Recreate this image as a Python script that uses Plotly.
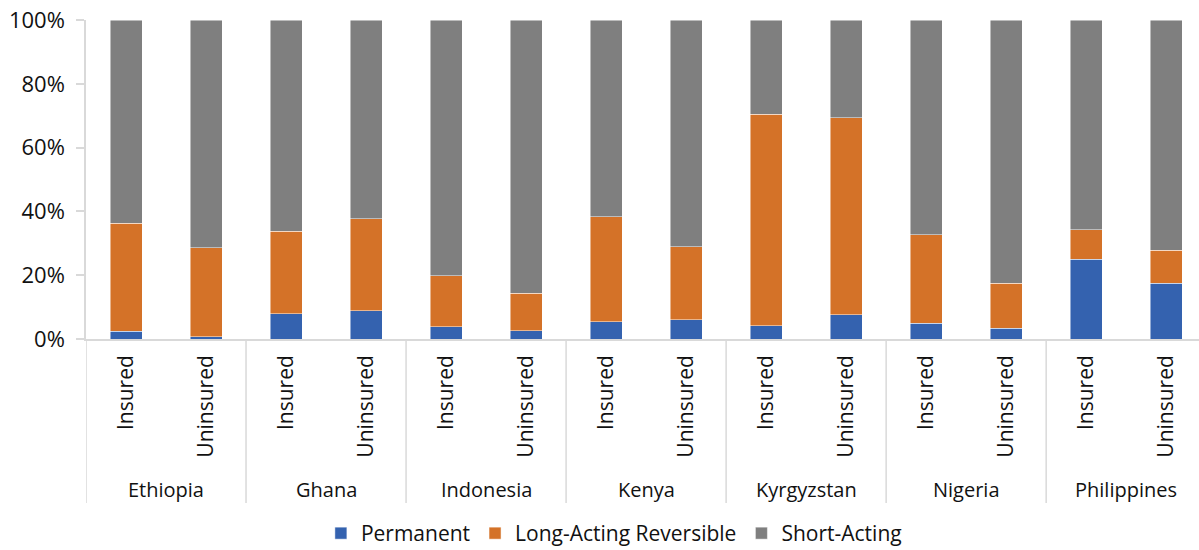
import plotly.graph_objects as go

countries = ["Ethiopia", "Ghana", "Indonesia", "Kenya", "Kyrgyzstan", "Nigeria", "Philippines"]
groups = ["Insured", "Uninsured"]

# shares (%) per bar, order: country x (Insured, Uninsured)
permanent = [2.5, 0.7, 7.9, 8.8, 3.9, 2.6, 5.4, 6.0, 4.2, 7.6, 4.9, 3.4, 25.0, 17.5]
long_acting = [33.8, 27.9, 25.9, 28.9, 15.9, 11.7, 33.0, 22.9, 66.3, 61.8, 27.8, 14.1, 9.2, 10.4]
short_acting = [63.7, 71.4, 66.2, 62.3, 80.2, 85.7, 61.6, 71.1, 29.5, 30.6, 67.3, 82.5, 65.8, 72.1]

series_names = ["Permanent", "Long-Acting Reversible", "Short-Acting"]
colors = ["#3462AF", "#D47228", "#7F7F7F"]

tick_text = [g for c in countries for g in groups]
xs = list(range(len(tick_text)))

FONT = "Open Sans"
TXT = "#111111"

fig = go.Figure()
for name, vals, col in zip(series_names, [permanent, long_acting, short_acting], colors):
    fig.add_trace(go.Bar(
        x=xs, y=vals, name=name,
        marker=dict(color=col, line=dict(color="rgba(255,255,255,0.6)", width=0.8)),
    ))

# group dividers and country labels
n_per = len(groups)
for i, c in enumerate(countries):
    fig.add_annotation(
        x=i * n_per + (n_per - 1) / 2, y=-0.473, xref="x", yref="paper",
        text=c, showarrow=False, font=dict(family=FONT, size=20, color=TXT),
        xanchor="center", yanchor="middle",
    )
for i in range(len(countries) + 1):
    fig.add_shape(
        type="line", xref="x", yref="paper",
        x0=i * n_per - 0.5, x1=i * n_per - 0.5, y0=0, y1=-0.514,
        line=dict(color="#D9D9D9", width=1.5),
    )

fig.update_layout(
    barmode="stack",
    bargap=0.6,
    width=1199, height=554,
    margin=dict(l=86, r=0, t=20, b=215, autoexpand=False),
    plot_bgcolor="white", paper_bgcolor="white",
    font=dict(family=FONT, size=21, color=TXT),
    showlegend=True,
    legend=dict(
        orientation="h", xref="container", yref="container",
        x=0.512, xanchor="center", y=0, yanchor="bottom",
        font=dict(family=FONT, size=21, color=TXT),
        traceorder="normal", itemwidth=30,
    ),
    xaxis=dict(
        tickmode="array", tickvals=xs, ticktext=tick_text,
        tickangle=-90, range=[-0.5, 13.41], automargin=False,
        showline=True, linecolor="#D9D9D9", linewidth=1.5,
        ticks="", showgrid=False, zeroline=False, ticklabelstandoff=6,
        tickfont=dict(family=FONT, size=21, color=TXT),
        fixedrange=True,
    ),
    yaxis=dict(
        range=[0, 100], tickvals=[0, 20, 40, 60, 80, 100],
        ticktext=["0%", "20%", "40%", "60%", "80%", "100%"],
        automargin=False, ticklabelstandoff=7, ticklabeloverflow="allow",
        showline=True, linecolor="#D9D9D9", linewidth=1.5,
        ticks="outside", ticklen=8, tickcolor="#D9D9D9", tickwidth=1.5,
        showgrid=False, zeroline=False, fixedrange=True,
        tickfont=dict(family=FONT, size=22, color=TXT),
    ),
)

# remove the default page margin / scrollbars so the figure sits at the window origin
fig.write_html(
    "out.html",
    config={"displayModeBar": False},
    post_script="document.body.style.margin='0px';document.body.style.overflow='hidden';",
)
